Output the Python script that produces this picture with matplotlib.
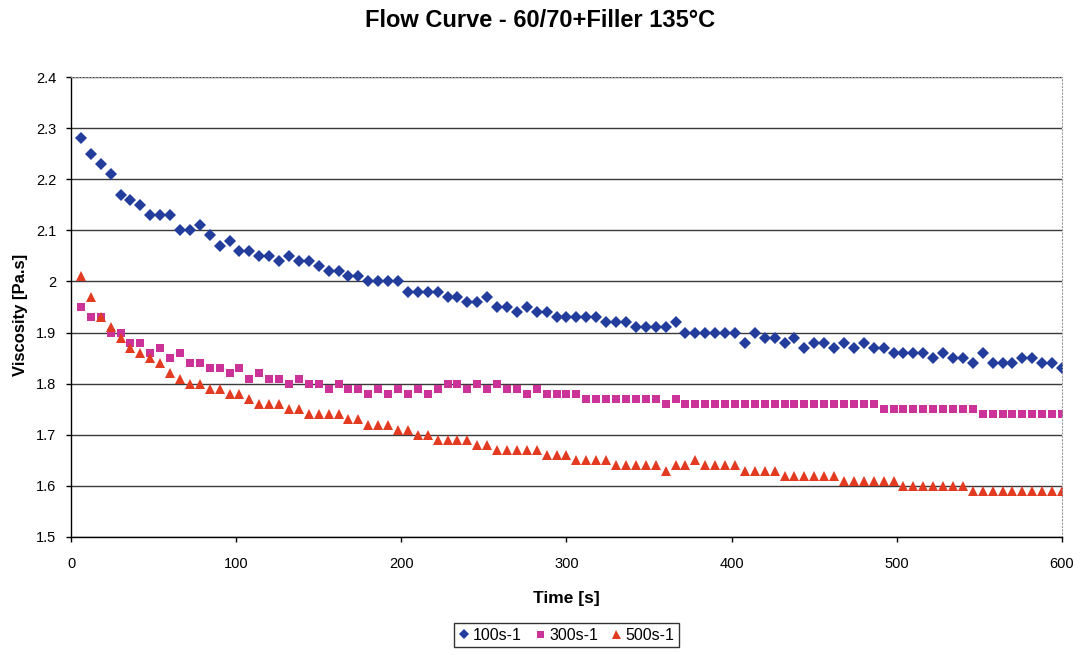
import matplotlib
matplotlib.use("Agg")
import matplotlib.pyplot as plt
import numpy as np

plt.rcParams['font.family'] = ['Liberation Sans', 'DejaVu Sans']

# Time stamps [s]
time_s = list(range(6, 601, 6))

# Viscosity [Pa.s] at shear rate 100 1/s
visc_100 = [
    2.28, 2.25, 2.23, 2.21, 2.17, 2.16, 2.15, 2.13, 2.13, 2.13,
    2.10, 2.10, 2.11, 2.09, 2.07, 2.08, 2.06, 2.06, 2.05, 2.05,
    2.04, 2.05, 2.04, 2.04, 2.03, 2.02, 2.02, 2.01, 2.01, 2.00,
    2.00, 2.00, 2.00, 1.98, 1.98, 1.98, 1.98, 1.97, 1.97, 1.96,
    1.96, 1.97, 1.95, 1.95, 1.94, 1.95, 1.94, 1.94, 1.93, 1.93,
    1.93, 1.93, 1.93, 1.92, 1.92, 1.92, 1.91, 1.91, 1.91, 1.91,
    1.92, 1.90, 1.90, 1.90, 1.90, 1.90, 1.90, 1.88, 1.90, 1.89,
    1.89, 1.88, 1.89, 1.87, 1.88, 1.88, 1.87, 1.88, 1.87, 1.88,
    1.87, 1.87, 1.86, 1.86, 1.86, 1.86, 1.85, 1.86, 1.85, 1.85,
    1.84, 1.86, 1.84, 1.84, 1.84, 1.85, 1.85, 1.84, 1.84, 1.83,
]

# Viscosity [Pa.s] at shear rate 300 1/s
visc_300 = [
    1.95, 1.93, 1.93, 1.90, 1.90, 1.88, 1.88, 1.86, 1.87, 1.85,
    1.86, 1.84, 1.84, 1.83, 1.83, 1.82, 1.83, 1.81, 1.82, 1.81,
    1.81, 1.80, 1.81, 1.80, 1.80, 1.79, 1.80, 1.79, 1.79, 1.78,
    1.79, 1.78, 1.79, 1.78, 1.79, 1.78, 1.79, 1.80, 1.80, 1.79,
    1.80, 1.79, 1.80, 1.79, 1.79, 1.78, 1.79, 1.78, 1.78, 1.78,
    1.78, 1.77, 1.77, 1.77, 1.77, 1.77, 1.77, 1.77, 1.77, 1.76,
    1.77, 1.76, 1.76, 1.76, 1.76, 1.76, 1.76, 1.76, 1.76, 1.76,
    1.76, 1.76, 1.76, 1.76, 1.76, 1.76, 1.76, 1.76, 1.76, 1.76,
    1.76, 1.75, 1.75, 1.75, 1.75, 1.75, 1.75, 1.75, 1.75, 1.75,
    1.75, 1.74, 1.74, 1.74, 1.74, 1.74, 1.74, 1.74, 1.74, 1.74,
]

# Viscosity [Pa.s] at shear rate 500 1/s
visc_500 = [
    2.01, 1.97, 1.93, 1.91, 1.89, 1.87, 1.86, 1.85, 1.84, 1.82,
    1.81, 1.80, 1.80, 1.79, 1.79, 1.78, 1.78, 1.77, 1.76, 1.76,
    1.76, 1.75, 1.75, 1.74, 1.74, 1.74, 1.74, 1.73, 1.73, 1.72,
    1.72, 1.72, 1.71, 1.71, 1.70, 1.70, 1.69, 1.69, 1.69, 1.69,
    1.68, 1.68, 1.67, 1.67, 1.67, 1.67, 1.67, 1.66, 1.66, 1.66,
    1.65, 1.65, 1.65, 1.65, 1.64, 1.64, 1.64, 1.64, 1.64, 1.63,
    1.64, 1.64, 1.65, 1.64, 1.64, 1.64, 1.64, 1.63, 1.63, 1.63,
    1.63, 1.62, 1.62, 1.62, 1.62, 1.62, 1.62, 1.61, 1.61, 1.61,
    1.61, 1.61, 1.61, 1.60, 1.60, 1.60, 1.60, 1.60, 1.60, 1.60,
    1.59, 1.59, 1.59, 1.59, 1.59, 1.59, 1.59, 1.59, 1.59, 1.59,
]

series_labels = ["100s-1", "300s-1", "500s-1"]
x_ticks = [0, 100, 200, 300, 400, 500, 600]
y_ticks = [1.5, 1.6, 1.7, 1.8, 1.9, 2.0, 2.1, 2.2, 2.3, 2.4]
y_tick_labels = ["1.5", "1.6", "1.7", "1.8", "1.9", "2", "2.1", "2.2", "2.3", "2.4"]

fig = plt.figure(figsize=(10.81, 6.55), dpi=100)
ax = fig.add_axes([0.0657, 0.1802, 0.9167, 0.7022])

ax.plot(time_s, visc_100, linestyle='none', marker='D', markersize=6.2,
        color='#233d9c', markeredgewidth=0, label=series_labels[0])
ax.plot(time_s, visc_300, linestyle='none', marker='s', markersize=5.6,
        color='#cc3399', markeredgewidth=0, label=series_labels[1])
ax.plot(time_s, visc_500, linestyle='none', marker='^', markersize=7.2,
        color='#e33a22', markeredgewidth=0, label=series_labels[2])

ax.set_xlim(0, 600)
ax.set_ylim(1.5, 2.4)
ax.set_xticks(x_ticks)
ax.set_yticks(y_ticks)
ax.set_yticklabels(y_tick_labels)
ax.tick_params(axis='both', labelsize=10.5, direction='out', length=3.6,
               width=1, colors='black')
ax.tick_params(axis='x', pad=11)
ax.tick_params(axis='y', pad=7)

ax.yaxis.grid(True, color='#3a3a3a', linewidth=1.0)
ax.set_axisbelow(True)

for side in ('left', 'bottom'):
    ax.spines[side].set_color('black')
    ax.spines[side].set_linewidth(1.0)
for side in ('top', 'right'):
    ax.spines[side].set_color('#9a9a9a')
    ax.spines[side].set_linestyle((0, (1, 2)))
    ax.spines[side].set_linewidth(0.8)

ax.set_xlabel("Time [s]", fontsize=12.5, fontweight='bold')
ax.xaxis.set_label_coords(0.5, -0.117)
ax.set_ylabel("Viscosity [Pa.s]", fontsize=12, fontweight='bold')
ax.yaxis.set_label_coords(-0.0434, 0.4826)
fig.suptitle("Flow Curve - 60/70+Filler 135°C", fontsize=17,
             fontweight='bold', y=0.968, va='center')

leg = fig.legend(loc='center', bbox_to_anchor=(0.524, 0.0305), ncol=3,
                 fontsize=11.5, frameon=True, fancybox=False,
                 handlelength=0.6, handletextpad=0.3, columnspacing=0.8,
                 borderpad=0.3, markerscale=0.9)
leg.get_frame().set_edgecolor('black')
leg.get_frame().set_linewidth(1.0)

fig.savefig("out.png", dpi=100)
